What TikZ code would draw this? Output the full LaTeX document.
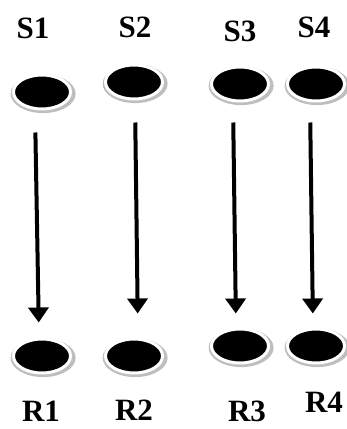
\documentclass[tikz,border=0pt]{standalone}
\usepackage{fontspec}
\setmainfont{Liberation Serif}
\usetikzlibrary{shapes.geometric,arrows.meta,shadows}
\definecolor{ringgray}{RGB}{190,190,190}

\begin{document}
\begin{tikzpicture}[
    x=1pt, y=-1pt,
    dot/.style={ellipse, fill=black, draw=white, line width=3pt, inner sep=0pt,
        minimum width=57pt, minimum height=34pt,
        drop shadow={shadow xshift=1pt, shadow yshift=-1.5pt, shadow scale=1.14, fill=ringgray, opacity=1}},
    lbl/.style={anchor=base, font=\bfseries\fontsize{31}{31}\selectfont, inner sep=0pt},
    arrow/.style={-{Triangle[width=20pt,length=15pt]}, line width=4pt}
]
    \useasboundingbox (0,0) rectangle (347,429);

    % Sources
    \node[dot] (s1) at (42,92) {};
    \node[dot] (s2) at (134,82) {};
    \node[dot] (s3) at (240,84) {};
    \node[dot] (s4) at (316,84) {};
    \node[lbl] (ls1) at (33,38) {S1};
    \node[lbl] (ls2) at (135,37) {S2};
    \node[lbl] (ls3) at (240,41) {S3};
    \node[lbl] (ls4) at (314,37) {S4};

    % Receivers
    \node[dot] (r1) at (42,356) {};
    \node[dot] (r2) at (134,356) {};
    \node[dot] (r3) at (240,346) {};
    \node[dot] (r4) at (316,346) {};
    \node[lbl] (lr1) at (41,421) {R1};
    \node[lbl] (lr2) at (134,420) {R2};
    \node[lbl] (lr3) at (247,421) {R3};
    \node[lbl] (lr4) at (324,412) {R4};

    % Arrows
    \draw[arrow, shorten <=22pt, shorten >=15pt] ([xshift=-7pt]s1.south) -- ([xshift=-3pt]r1.north);
    \draw[arrow, shorten <=22pt, shorten >=24pt] ([xshift=1pt]s2.south) -- ([xshift=4pt]r2.north);
    \draw[arrow, shorten <=20pt, shorten >=14pt] ([xshift=-7pt]s3.south) -- ([xshift=-4pt]r3.north);
    \draw[arrow, shorten <=20pt, shorten >=14pt] ([xshift=-6pt]s4.south) -- ([xshift=-3pt]r4.north);
\end{tikzpicture}
\end{document}
